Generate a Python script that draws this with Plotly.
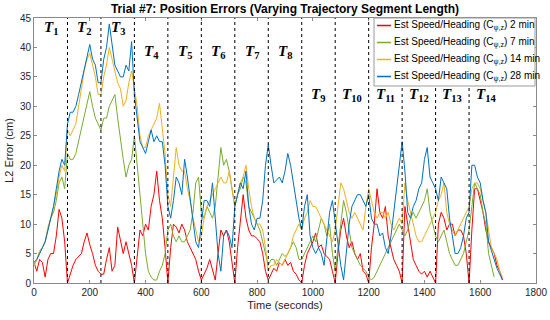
import plotly.graph_objects as go

time_s = list(range(0, 1681, 10))

err_2min = [3.5, 2, 4, 3.5, 1, 4, 5, 5, 8, 12.5, 11, 7, 0,
            1.5, 3, 4, 4.5, 5, 7, 8.5, 6.5, 5, 3, 2, 1.5,
            1.5, 4, 6, 2, 3, 9.5, 7, 5, 7, 5, 3, 0,
            4, 9, 8, 10, 9, 13, 15, 19, 14, 11, 6, 0,
            6, 10, 9.5, 8.5, 10, 9, 7, 6, 5, 4, 2, 0.5,
            1.5, 2.5, 4, 2, 0.5, 5, 9, 8, 9, 7, 3, 0,
            6, 11, 15, 11, 9, 8, 8, 7.5, 7, 5, 2, 0.5,
            1.5, 2.5, 2, 3.5, 3, 4, 3, 3.5, 2, 1.5, 0.5, 0,
            3, 5, 6, 7, 8.5, 6, 6.5, 5, 4.5, 4, 2, 0,
            5, 9, 11, 8, 6, 7, 5, 4, 5, 2, 1.5, 0,
            6, 10, 16, 12, 11, 13, 8, 6, 4, 3, 2, 0,
            13, 10, 7, 4, 3, 2, 1.5, 2, 1, 2, 1, 0,
            10, 12, 11, 9, 10, 10, 8, 9, 9, 8, 5, 0,
            9, 16, 16, 14, 12, 9, 7, 6, 5, 3, 2, 0.5]

err_7min = [3, 4, 5, 6, 7, 9, 11, 12, 14, 17, 18, 16, 22,
            21, 21, 22, 24, 26, 28, 30, 32.5, 30, 28, 27, 26,
            28, 28, 30, 31, 32, 28, 24, 21, 18, 20, 21, 25,
            20, 15, 10, 5, 2, 1, 0.5, 0.5, 2, 3, 5, 9,
            10, 8, 7, 8, 7, 7, 8, 9, 12, 17, 18, 12,
            11, 13, 12, 11, 13, 18, 23, 20, 21, 19, 16, 13,
            15, 16, 18, 17, 13, 12, 11, 10, 9, 7, 5, 3,
            4, 4, 3, 4, 5, 4.5, 5, 6, 7, 6, 4, 4,
            5, 6, 7, 8, 7, 9, 11, 10, 8, 10, 5, 2,
            6, 9, 14, 12, 9, 6, 5, 4, 3, 2.5, 2, 1,
            0.5, 1, 2, 3, 4, 5, 6, 7, 8, 9, 10, 9,
            8, 9, 11, 12, 11, 12, 13, 14, 16, 12, 10, 8,
            7, 8, 9, 7, 5, 4, 3, 3, 4, 5, 7, 9,
            13, 17, 16, 15, 12, 10, 5, 3, 1, None, None, None]

err_14min = [3, 4, 5.5, 6, 7, 9.5, 11, 13, 15, 18, 20, 19, 26,
             25, 26, 27, 30, 33, 36, 38, 39, 37, 35, 32, 32,
             35, 37, 40, 38, 36, 34, 33, 30, 31, 34, 36, 33,
             30, 25, 23, 23, 25, 26, 27, 28, 30.5, 26, 22, 15,
             13, 18, 23, 20, 19, 19, 16, 14, 11, 9, 7, 8,
             11, 13, 14, 15, 16, 17, 18, 17, 17, 19, 16, 13,
             15, 17, 18, 20, 16, 13, 11, 10, 10, 9, 6, 2,
             3, 3, 4, 3.5, 3, 4, 5, 6, 8, 9, 10, 9,
             11, 12, 14, 13, 13, 12, 11, 10, 9, 8, 7, 9,
             13, 17, 16, 14, 12, 11, 12, 11, 10, 9, 13, 16,
             14, 12, 11, 12, 12, 11, 12, 10, 9, 10, 11, 10,
             17, 14, 12, 10, 8, 7, 7, 8, 9, 10, 11, 12,
             14, 15, 17, 12, 10, 9, 8, 9, 10, 11, 12, 13,
             16, 17, 17, 16, 14, 12, 9, 6, 5, 4, 2, 1]

err_28min = [3.5, 4, 5, 6, 7, 9, 11, 13, 16, 19, 21, 20, 27,
             29, 29, 30, 32, 34, 36, 38, 40.5, 38, 37, 34, 34,
             38, 40, 44, 40, 37, 36, 35, 35, 37, 36, 41, 32,
             28, 24, 23, 22, 24, 26, 24, 25, 24, 24, 20, 13,
             11, 14, 18, 17, 15, 21, 18, 14, 10, 7, 6, 10,
             14, 14, 13, 17, 11, 5, 2, 8, 9, 8, 6, 13,
             15, 17, 16, 19, 13, 10, 9, 11, 11, 14, 20, 23.5,
             20, 17, 17.5, 18, 17, 19, 22, 20, 17, 14, 11, 9,
             13, 15, 8, 6, 5, 6, 5, 3, 7, 12, 14, 10,
             6, 3, 0.5, 6, 10, 13, 14, 15, 15, 14, 13, 15,
             11, 10, 10, 8, 8.5, 6, 5, 8, 12, 16, 21, 24,
             19, 12, 11, 13, 14, 16, 17, 21, 23, 18, 17, 16,
             14, 18, 17, 16, 11, 8, 5, 5, 6, 8, 11, 12,
             20, 20, 18, 17, 14, 12, 7, 5.5, 4, 2.5, 1.5, 0.5]

series_names = ["Est Speed/Heading (C<sub>ψ,z</sub>) 2 min",
                "Est Speed/Heading (C<sub>ψ,z</sub>) 7 min",
                "Est Speed/Heading (C<sub>ψ,z</sub>) 14 min",
                "Est Speed/Heading (C<sub>ψ,z</sub>) 28 min"]
series_colors = ["#FF0000", "#77AC30", "#EDB120", "#0072BD"]

segment_bounds = [120 * k for k in range(1, 14)]
segment_centers = [60 + 120 * k for k in range(14)]
segment_labels = ["T%d" % (k + 1) for k in range(14)]
label_heights = [43.3, 43.3, 43.3, 39.3, 39.3, 39.3, 39.3, 39.3, 32, 32, 32, 32, 32, 32]

x_ticks = list(range(0, 1801, 200))
y_ticks = list(range(0, 46, 5))

fig = go.Figure()
for vals, name, col in zip([err_2min, err_7min, err_14min, err_28min], series_names, series_colors):
    fig.add_trace(go.Scatter(x=time_s, y=vals, mode="lines", name=name,
                             line=dict(color=col, width=1), showlegend=False))

for b in segment_bounds:
    fig.add_shape(type="line", x0=b, x1=b, y0=0, y1=45, xref="x", yref="y",
                  line=dict(color="#000000", width=1, dash="dot"), layer="above")

for xc, lab, yh in zip(segment_centers, segment_labels, label_heights):
    fig.add_annotation(x=xc, y=yh, xref="x", yref="y", showarrow=False,
                       text="<b><i>T</i></b><sub><b>%s</b></sub>" % lab[1:],
                       font=dict(family="Liberation Serif", size=15, color="#000000"))

# manual legend (MATLAB style, short line samples)
L, R, T, B = 34, 536, 18, 283
def px(xp):
    return (xp - L) / (R - L)
def py(yp):
    return (B - yp) / (B - T)

fig.add_shape(type="rect", xref="paper", yref="paper",
              x0=px(374), x1=px(535), y0=py(86), y1=py(18),
              line=dict(color="#9a9a9a", width=1), fillcolor="white", layer="above")
row_y = [25.5, 42.5, 59.5, 76.5]
for ry, name, col in zip(row_y, series_names, series_colors):
    fig.add_shape(type="line", xref="paper", yref="paper",
                  x0=px(377), x1=px(391), y0=py(ry), y1=py(ry),
                  line=dict(color=col, width=1.5), layer="above")
    fig.add_annotation(xref="paper", yref="paper", x=px(392), y=py(ry),
                       xanchor="left", yanchor="middle", showarrow=False, text=name,
                       font=dict(family="Liberation Sans", size=10, color="#000000"))

axis_common = dict(showgrid=False, zeroline=False, showline=True, linecolor="#8a8a8a",
                   linewidth=1, mirror="ticks", ticks="inside", ticklen=3,
                   tickcolor="#8a8a8a", automargin=False,
                   tickfont=dict(family="Liberation Sans", size=10, color="#262626"))

fig.update_layout(
    width=550, height=320,
    margin=dict(l=L, r=550 - R, t=T, b=320 - B, autoexpand=False),
    paper_bgcolor="white", plot_bgcolor="white",
    title=dict(text="<b>Trial #7: Position Errors (Varying Trajectory Segment Length)</b>",
               x=0.5, xref="paper", y=1 - 9 / 320, yref="container", yanchor="middle",
               font=dict(family="Liberation Sans", size=12, color="#000000")),
    xaxis=dict(range=[0, 1800], tickvals=x_ticks,
               title=dict(text="Time (seconds)", standoff=4,
                          font=dict(family="Liberation Sans", size=11, color="#262626")),
               **axis_common),
    yaxis=dict(range=[0, 45], tickvals=y_ticks,
               title=dict(text="L2 Error (cm)", standoff=4,
                          font=dict(family="Liberation Sans", size=11, color="#262626")),
               **axis_common),
)

fig.write_html("out.html", config={"displayModeBar": False},
               post_script="document.body.style.margin='0';document.body.style.overflow='hidden';")
